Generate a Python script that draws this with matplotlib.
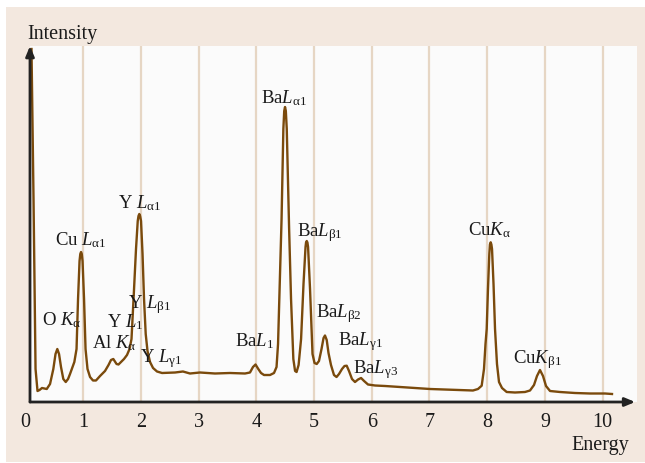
import matplotlib
matplotlib.use("Agg")
import matplotlib.pyplot as plt
from matplotlib.patches import Rectangle
from matplotlib.transforms import offset_copy

# ---------------- data ----------------
energy = [0.107, 0.142, 0.177, 0.211, 0.246, 0.289, 0.371, 0.428, 0.485, 0.523,
          0.554, 0.584, 0.618, 0.658, 0.700, 0.740, 0.774, 0.849, 0.887, 0.913,
          0.939, 0.952, 0.965, 0.978, 0.991, 1.017, 1.043, 1.077, 1.121, 1.172,
          1.224, 1.294, 1.380, 1.441, 1.484, 1.524, 1.580, 1.614, 1.657, 1.709,
          1.761, 1.805, 1.839, 1.857, 1.883, 1.917, 1.947, 1.960, 1.974, 1.988,
          2.004, 2.030, 2.056, 2.085, 2.116, 2.160, 2.212, 2.281, 2.368, 2.593,
          2.730, 2.852, 3.025, 3.285, 3.545, 3.805, 3.891, 3.943, 3.987, 4.035,
          4.082, 4.134, 4.238, 4.307, 4.351, 4.377, 4.403, 4.438, 4.469, 4.484,
          4.498, 4.512, 4.528, 4.568, 4.602, 4.642, 4.672, 4.698, 4.733, 4.776,
          4.818, 4.853, 4.862, 4.874, 4.886, 4.897, 4.931, 4.974, 5.009, 5.047,
          5.086, 5.130, 5.165, 5.190, 5.220, 5.251, 5.294, 5.346, 5.390, 5.433,
          5.485, 5.528, 5.566, 5.606, 5.658, 5.710, 5.763, 5.815, 5.867, 5.935,
          6.057, 6.230, 6.490, 6.750, 7.009, 7.269, 7.528, 7.753, 7.840, 7.904,
          7.944, 7.970, 7.991, 8.013, 8.036, 8.047, 8.060, 8.072, 8.083, 8.109,
          8.135, 8.169, 8.204, 8.256, 8.337, 8.481, 8.654, 8.741, 8.810, 8.862,
          8.914, 8.966, 9.018, 9.088, 9.260, 9.520, 9.780, 10.040, 10.161]
intensity = [353, 203, 33, 11, 12, 14, 13, 18, 33, 48,
             53, 48, 35, 23, 20, 23, 28, 40, 53, 103,
             141, 148, 150, 148, 141, 103, 53, 33, 25, 21.5,
             21.5, 26, 31, 37, 42, 43, 38, 37.5, 40, 43,
             47, 53, 63, 83, 113, 153, 181, 186, 188, 186,
             181, 148, 103, 68, 51, 40, 34, 30.5, 29, 29.5,
             30.5, 28.5, 29.5, 28.5, 29, 28.5, 29.5, 35, 37.5, 33,
             29, 27, 27, 29, 35, 58, 113, 183, 273, 291,
             295, 291, 273, 175, 103, 43, 31, 30, 37, 63,
             118, 155, 159.5, 161, 159.5, 155, 113, 48, 39, 38,
             41, 53, 64, 66.5, 62, 49, 37, 27, 25, 28,
             33, 36, 36.3, 31, 23, 20, 22.5, 24, 21, 17.5,
             16.5, 16, 15, 14, 13, 12.5, 12, 11.5, 13, 16.3,
             33, 58, 73, 113, 148, 157.5, 159.7, 157.5, 153, 118,
             73, 38, 20, 14, 10, 9.5, 10, 11.5, 17, 26,
             32, 26, 16, 11, 10, 9, 8.5, 8.5, 8]

tick_values = [1, 2, 3, 4, 5, 6, 7, 8, 9, 10]

peak_labels = [r"Cu $L_{\mathrm{\alpha 1}}$", r"Y $L_{\mathrm{\alpha 1}}$",
               r"Ba$L_{\mathrm{\alpha 1}}$", r"Ba$L_{\mathrm{\beta 1}}$",
               r"O $K_{\mathrm{\alpha}}$", r"Y $L_{\mathrm{1}}$",
               r"Y $L_{\mathrm{\beta 1}}$", r"Al $K_{\mathrm{\alpha}}$",
               r"Y $L_{\mathrm{\gamma 1}}$", r"Ba$L_{\mathrm{1}}$",
               r"Ba$L_{\mathrm{\beta 2}}$", r"Ba$L_{\mathrm{\gamma 1}}$",
               r"Ba$L_{\mathrm{\gamma 3}}$", r"Cu$K_{\mathrm{\alpha}}$",
               r"Cu$K_{\mathrm{\beta 1}}$"]
label_x = [0.514, 1.606, 4.082, 4.705, 0.289, 1.417, 1.779, 1.155, 1.986,
           3.632, 5.035, 5.416, 5.675, 7.667, 8.447]
label_y = [158, 195, 300, 167, 78, 76, 95, 55, 41, 57, 86, 58, 30, 168, 40]

# ---------------- style ----------------
plt.rcParams["font.family"] = ["Liberation Serif", "DejaVu Serif"]
plt.rcParams["mathtext.fontset"] = "custom"
plt.rcParams["mathtext.rm"] = "Liberation Serif"
plt.rcParams["mathtext.it"] = "Liberation Serif:italic"
plt.rcParams["mathtext.bf"] = "Liberation Serif:bold"

BEIGE = "#F3E8DF"
PLOT_BG = "#FBFBFB"
GRID = "#E6D6C4"
LINE = "#7A4A0C"
AXIS = "#222222"

W, H = 645, 464
fig = plt.figure(figsize=(W / 100, H / 100), dpi=100)
fig.patch.set_facecolor("white")
fig.patches.append(Rectangle((6 / W, 1 / H), 639 / W, 455 / H,
                             transform=fig.transFigure, facecolor=BEIGE,
                             edgecolor="none", zorder=-10))

ax = fig.add_axes([30 / W, (H - 403) / H, 607 / W, 356 / H])
ax.set_facecolor(PLOT_BG)
ax.set_xlim(0.081, 10.594)
ax.set_ylim(0, 356)

for s in ax.spines.values():
    s.set_visible(False)

for t in tick_values:
    ax.axvline(t, color=GRID, lw=1.6, zorder=0)

ax.plot(energy, intensity, color=LINE, lw=1.7, solid_joinstyle="round",
        zorder=3, clip_on=False)

# axes with arrows
ax.annotate("", xy=(0, 1.0), xytext=(0, 0), xycoords="axes fraction",
            arrowprops=dict(arrowstyle="-|>,head_length=0.6,head_width=0.25",
                            color=AXIS, lw=2, shrinkA=0, shrinkB=0), zorder=5)
ax.annotate("", xy=(0.997, 0), xytext=(0, 0), xycoords="axes fraction",
            arrowprops=dict(arrowstyle="-|>,head_length=0.6,head_width=0.25",
                            color=AXIS, lw=2, shrinkA=0, shrinkB=0), zorder=5)

ax.set_yticks([])
ax.set_xticks(tick_values)
ax.set_xticklabels([str(v) for v in tick_values])
ax.tick_params(axis="x", length=0, pad=7, labelsize=14.5, labelcolor="#1a1a1a")
zero_tr = offset_copy(ax.get_xaxis_transform(), fig=fig, y=-7, units="points")
ax.text(0, 0, "0", transform=zero_tr, ha="center", va="top",
        fontsize=14.5, color="#1a1a1a", clip_on=False)

for lab, lx, ly in zip(peak_labels, label_x, label_y):
    ax.text(lx, ly, lab, ha="left", va="baseline", fontsize=13.5,
            color="#1a1a1a", zorder=4)

fig.text(27 / W, (H - 39.3) / H, "Intensity", ha="left", va="baseline",
         fontsize=14.5, color="#1a1a1a")
fig.text(629 / W, (H - 450) / H, "Energy", ha="right", va="baseline",
         fontsize=14.5, color="#1a1a1a")

fig.savefig("out.png", dpi=100, facecolor=fig.get_facecolor())
